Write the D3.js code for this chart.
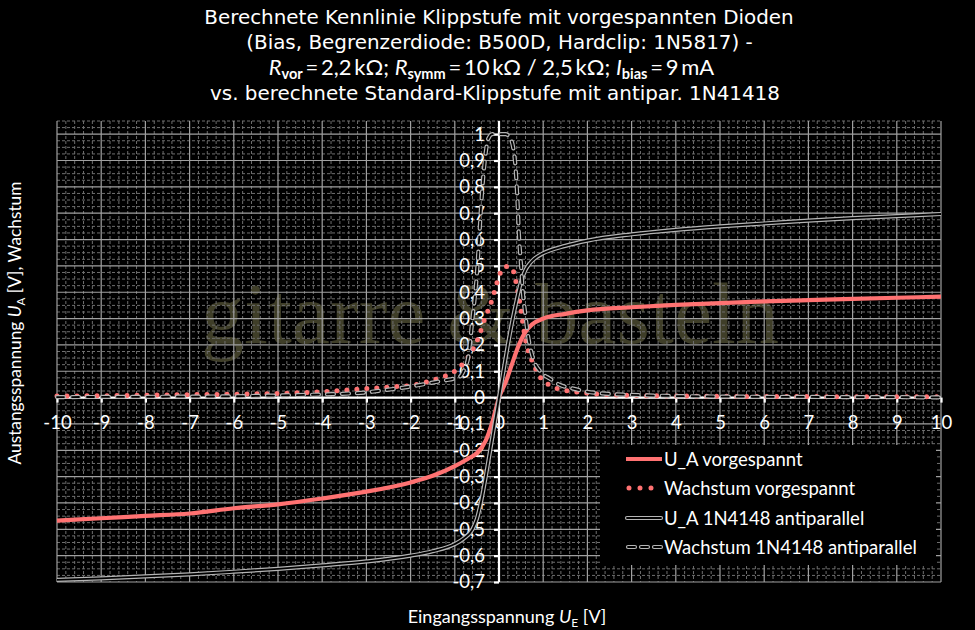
<!DOCTYPE html>
<html><head><meta charset="utf-8">
<script src="https://cdn.jsdelivr.net/npm/d3@7/dist/d3.min.js"></script>
<style>
body{margin:0;background:#000;}
svg{display:block;}
</style>
</head><body>
<svg id="chart" width="975" height="630"></svg>
<script>
// ---------- data ----------
const xTickValues = [-10,-9,-8,-7,-6,-5,-4,-3,-2,-1,0,1,2,3,4,5,6,7,8,9,10];
const xTickLabels = ["-10","-9","-8","-7","-6","-5","-4","-3","-2","-1","0","1","2","3","4","5","6","7","8","9","10"];
const yTickValues = [-0.7,-0.6,-0.5,-0.4,-0.3,-0.2,-0.1,0,0.1,0.2,0.3,0.4,0.5,0.6,0.7,0.8,0.9,1];
const yTickLabels = ["-0,7","-0,6","-0,5","-0,4","-0,3","-0,2","-0,1","0","0,1","0,2","0,3","0,4","0,5","0,6","0,7","0,8","0,9","1"];

// U_A vorgespannt
const uaVorX = [-10,-9,-8,-7,-6,-5,-4,-3,-2,-1.5,-1,-0.7,-0.5,-0.3,-0.15,0,0.15,0.3,0.45,0.6,0.75,1,1.5,2,3,4,5,6,7,8,9,10];
const uaVorY = [-0.467,-0.458,-0.449,-0.44,-0.42,-0.405,-0.383,-0.357,-0.322,-0.297,-0.26,-0.232,-0.21,-0.163,-0.093,0,0.058,0.13,0.2,0.25,0.278,0.3,0.318,0.331,0.343,0.352,0.359,0.365,0.37,0.375,0.379,0.383];

// Wachstum vorgespannt
const wVorX = [-10,-9,-8,-7,-6,-5,-4,-3,-2.5,-2,-1.5,-1.25,-1,-0.75,-0.6,-0.45,-0.3,-0.2,-0.1,0,0.1,0.2,0.3,0.35,0.4,0.45,0.5,0.55,0.63,0.7,0.8,0.9,1,1.2,1.4,1.65,1.9,2.1,2.5,3,4,5,6,7,8,9,10];
const wVorY = [0.006,0.007,0.009,0.011,0.013,0.016,0.022,0.034,0.04,0.046,0.066,0.08,0.1,0.142,0.18,0.235,0.31,0.35,0.405,0.46,0.494,0.498,0.49,0.465,0.425,0.38,0.33,0.27,0.195,0.16,0.12,0.085,0.065,0.042,0.031,0.023,0.019,0.015,0.011,0.008,0.006,0.005,0.004,0.004,0.003,0.003,0.003];

// U_A 1N4148 antiparallel
const uaStdX = [-10,-9,-8,-7,-6,-5,-4,-3,-2,-1.5,-1,-0.8,-0.6,-0.5,-0.4,-0.3,-0.2,-0.1,0,0.1,0.2,0.3,0.4,0.5,0.6,0.7,0.8,1,1.5,2,3,4,5,6,7,8,9,10];
const uaStdY = [-0.692,-0.686,-0.679,-0.671,-0.661,-0.65,-0.637,-0.622,-0.6,-0.583,-0.556,-0.535,-0.5,-0.46,-0.39,-0.3,-0.2,-0.1,0,0.1,0.2,0.29,0.37,0.44,0.485,0.51,0.527,0.548,0.576,0.596,0.62,0.637,0.65,0.661,0.672,0.681,0.689,0.697];

// Wachstum 1N4148 antiparallel
const wStdX = [-10,-8,-6,-5,-4,-3,-2.5,-2,-1.5,-1.2,-1,-0.88,-0.78,-0.7,-0.6,-0.5,-0.45,-0.4,-0.35,-0.3,-0.25,-0.15,0,0.15,0.25,0.32,0.38,0.42,0.45,0.5,0.54,0.6,0.65,0.77,0.93,1.15,1.38,1.68,2,2.5,3,4,5,6,8,10];
const wStdY = [0.002,0.003,0.005,0.008,0.012,0.02,0.03,0.042,0.057,0.066,0.073,0.08,0.11,0.15,0.3,0.47,0.6,0.74,0.85,0.93,0.98,1.0,1.0,1.0,0.985,0.95,0.86,0.74,0.62,0.5,0.4,0.31,0.243,0.15,0.1,0.072,0.048,0.034,0.022,0.014,0.01,0.006,0.004,0.003,0.002,0.001];

const legendLabels = ["U_A vorgespannt","Wachstum vorgespannt","U_A 1N4148 antiparallel","Wachstum 1N4148 antiparallel"];
const titleLines = ["Berechnete Kennlinie Klippstufe mit vorgespannten Dioden","(Bias, Begrenzerdiode: B500D, Hardclip: 1N5817) -","vs. berechnete Standard-Klippstufe mit antipar. 1N41418"];

// ---------- chart ----------
const svg = d3.select("#chart");
svg.append("rect").attr("width",975).attr("height",630).attr("fill","#000");

const x = d3.scaleLinear().domain([-10,10]).range([57,941]);
const y = d3.scaleLinear().domain([-0.7,1.05]).range([582,121]);

const tickFont = "Lato, 'Open Sans', sans-serif";

// watermark
svg.append("text")
  .attr("x", 490).attr("y", 343)
  .attr("text-anchor","middle")
  .attr("font-family","'Liberation Serif', 'DejaVu Serif', serif")
  .attr("font-size",86)
  .attr("fill","#3f3e28")
  .text("gitarre & basteln");

// grid
const grid = svg.append("g");
const minorX = d3.range(-10, 10.001, 0.2).filter(v => Math.abs(v - Math.round(v)) > 1e-6);
const minorY = d3.range(-0.7, 1.0501, 0.025).filter(v => Math.abs(v*10 - Math.round(v*10)) > 1e-6);
grid.selectAll(".mx").data(minorX).join("line")
  .attr("x1",d=>x(d)).attr("x2",d=>x(d)).attr("y1",y(1.05)).attr("y2",y(-0.7))
  .attr("stroke","#6e6e6e").attr("stroke-width",1).attr("stroke-dasharray","3,2");
grid.selectAll(".my").data(minorY).join("line")
  .attr("y1",d=>y(d)).attr("y2",d=>y(d)).attr("x1",x(-10)).attr("x2",x(10))
  .attr("stroke","#6e6e6e").attr("stroke-width",1).attr("stroke-dasharray","3,2");
grid.selectAll(".Mx").data(xTickValues).join("line")
  .attr("x1",d=>x(d)).attr("x2",d=>x(d)).attr("y1",y(1.05)).attr("y2",y(-0.7))
  .attr("stroke","#a0a0a0").attr("stroke-width",1.2);
grid.selectAll(".My").data(yTickValues).join("line")
  .attr("y1",d=>y(d)).attr("y2",d=>y(d)).attr("x1",x(-10)).attr("x2",x(10))
  .attr("stroke","#a0a0a0").attr("stroke-width",1.2);

// axes
const xAxis = d3.axisBottom(x).tickValues(xTickValues)
  .tickFormat((d,i)=>xTickLabels[i]).tickSize(5).tickPadding(13);
const gx = svg.append("g").attr("transform",`translate(0,${y(0)})`).call(xAxis);
const yAxis = d3.axisLeft(y).tickValues(yTickValues)
  .tickFormat((d,i)=>yTickLabels[i]).tickSize(5).tickPadding(9);
const gy = svg.append("g").attr("transform",`translate(${x(0)},0)`).call(yAxis);
[gx,gy].forEach(g=>{
  g.select(".domain").attr("stroke","#fff").attr("stroke-width",2.2);
  g.selectAll(".tick line").attr("stroke","#fff").attr("stroke-width",2.2);
  g.selectAll(".tick text").attr("fill","#fff").attr("font-family",tickFont).attr("font-size",18.5);
});
gy.select(".domain").attr("d",`M0,${y(1.05)}V${y(-0.7)}`);
gx.select(".domain").attr("d",`M${x(-10)},0H${x(10)}`);

// series
const pts = (xs,ys)=>xs.map((v,i)=>[v,ys[i]]);
const line = d3.line().x(d=>x(d[0])).y(d=>y(d[1])).curve(d3.curveMonotoneX);
const series = svg.append("g");

series.append("path").attr("d",line(pts(uaVorX,uaVorY)))
  .attr("fill","none").attr("stroke","#ff7272").attr("stroke-width",4.2).attr("stroke-linejoin","round");

series.append("path").attr("d",line(pts(wVorX,wVorY)))
  .attr("fill","none").attr("stroke","#ff7272").attr("stroke-width",5)
  .attr("stroke-linecap","round").attr("stroke-dasharray","0,10");

const stdPath = line(pts(uaStdX,uaStdY));
series.append("path").attr("d",stdPath).attr("fill","none").attr("stroke","#b4b4b4").attr("stroke-width",4.2);
series.append("path").attr("d",stdPath).attr("fill","none").attr("stroke","#000").attr("stroke-width",1.8);

const wStdPath = line(pts(wStdX,wStdY));
series.append("path").attr("d",wStdPath).attr("fill","none").attr("stroke","#b4b4b4").attr("stroke-width",4.2)
  .attr("stroke-dasharray","7,8").attr("stroke-linecap","round");
series.append("path").attr("d",wStdPath).attr("fill","none").attr("stroke","#000").attr("stroke-width",1.8)
  .attr("stroke-dasharray","7,8").attr("stroke-linecap","round");

// legend
const lg = svg.append("g");
lg.append("rect").attr("x",600).attr("y",445).attr("width",336).attr("height",120).attr("fill","#000");
const rowY = [459,488,518,547];
lg.append("line").attr("x1",626).attr("x2",662).attr("y1",rowY[0]).attr("y2",rowY[0])
  .attr("stroke","#ff7272").attr("stroke-width",4.2);
lg.append("line").attr("x1",629).attr("x2",662).attr("y1",rowY[1]).attr("y2",rowY[1])
  .attr("stroke","#ff7272").attr("stroke-width",5).attr("stroke-linecap","round").attr("stroke-dasharray","0,11");
lg.append("line").attr("x1",627).attr("x2",661).attr("y1",rowY[2]).attr("y2",rowY[2])
  .attr("stroke","#b4b4b4").attr("stroke-width",4.2).attr("stroke-linecap","round");
lg.append("line").attr("x1",627).attr("x2",661).attr("y1",rowY[2]).attr("y2",rowY[2])
  .attr("stroke","#000").attr("stroke-width",1.8).attr("stroke-linecap","round");
lg.append("line").attr("x1",628).attr("x2",661).attr("y1",rowY[3]).attr("y2",rowY[3])
  .attr("stroke","#b4b4b4").attr("stroke-width",4.2).attr("stroke-linecap","round").attr("stroke-dasharray","7,6");
lg.append("line").attr("x1",628).attr("x2",661).attr("y1",rowY[3]).attr("y2",rowY[3])
  .attr("stroke","#000").attr("stroke-width",1.8).attr("stroke-linecap","round").attr("stroke-dasharray","7,6");
lg.selectAll(".lt").data(legendLabels).join("text")
  .attr("x",664).attr("y",(d,i)=>rowY[i]+6.5)
  .attr("fill","#fff").attr("font-family",tickFont).attr("font-size",18.5)
  .text(d=>d);

// title
const titleFont = "'DejaVu Sans', sans-serif";
const t = svg.append("g").attr("fill","#fff").attr("text-anchor","middle");
const tl1 = t.append("text").attr("x",499).attr("y",24).attr("font-family",titleFont).attr("font-size",20).text(titleLines[0]);
// fit title font size so line 1 spans the same width as in the reference
const w1 = tl1.node().getComputedTextLength();
const titleSize = 20 * 590 / w1;
tl1.attr("font-size",titleSize);
t.append("text").attr("x",499.5).attr("y",49).attr("font-family",titleFont).attr("font-size",titleSize).text(titleLines[1]);
const l3 = t.append("text").attr("x",491.5).attr("y",75).attr("font-family",tickFont).attr("font-size",22);
l3.append("tspan").attr("font-style","italic").text("R");
l3.append("tspan").attr("font-size",14.5).attr("font-weight","bold").attr("dy",4).text("vor");
l3.append("tspan").attr("dy",-4).text("\u2009=\u20092,2\u2009kΩ; ");
l3.append("tspan").attr("font-style","italic").text("R");
l3.append("tspan").attr("font-size",14.5).attr("font-weight","bold").attr("dy",4).text("symm");
l3.append("tspan").attr("dy",-4).text("\u2009=\u200910\u2009kΩ / 2,5\u2009kΩ; ");
l3.append("tspan").attr("font-style","italic").text("I");
l3.append("tspan").attr("font-size",14.5).attr("font-weight","bold").attr("dy",4).text("bias");
l3.append("tspan").attr("dy",-4).text("\u2009=\u20099\u2009mA");
t.append("text").attr("x",495).attr("y",100).attr("font-family",titleFont).attr("font-size",titleSize).text(titleLines[2]);

// axis titles
const xt = svg.append("text").attr("x",507).attr("y",623).attr("text-anchor","middle")
  .attr("fill","#fff").attr("font-family",tickFont).attr("font-size",18);
xt.append("tspan").text("Eingangsspannung ");
xt.append("tspan").attr("font-style","italic").text("U");
xt.append("tspan").attr("font-size",12).attr("dy",4).text("E");
xt.append("tspan").attr("dy",-4).text(" [V]");

const yt = svg.append("text").attr("transform",`translate(21,323) rotate(-90)`)
  .attr("text-anchor","middle").attr("fill","#fff").attr("font-family",tickFont).attr("font-size",17.3);
yt.append("tspan").text("Austangsspannung ");
yt.append("tspan").attr("font-style","italic").text("U");
yt.append("tspan").attr("font-size",11.5).attr("dy",4).text("A");
yt.append("tspan").attr("dy",-4).text(" [V], Wachstum");
</script>
</body></html>
